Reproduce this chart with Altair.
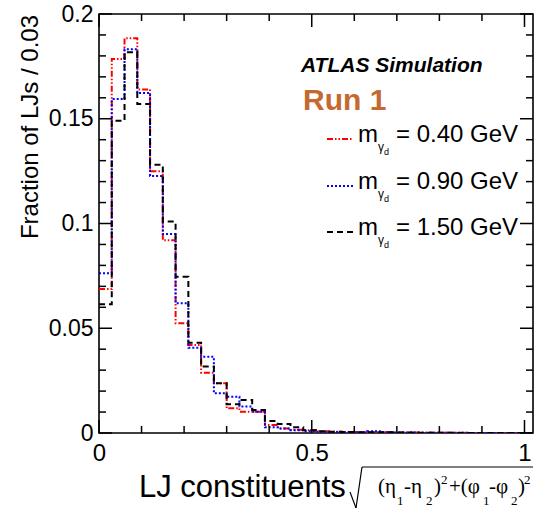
import altair as alt
import pandas as pd

# Histogram binning: 0.03-wide bins from 0 to 1.02
bin_width = 0.03
n_bins = 34
edges = [round(i * bin_width, 2) for i in range(n_bins + 1)]

masses = ["0.40", "0.90", "1.50"]
colors = ["#ff0000", "#0000ff", "#000000"]
dashes = [[6, 2, 1.5, 2, 1.5, 2], [2, 2], [6, 4]]

# Fraction of lepton-jets per bin for each dark-photon mass
frac_040 = [0.0687, 0.1785, 0.1884, 0.1640, 0.1250, 0.0920, 0.0524, 0.0420,
            0.0288, 0.0237, 0.0118, 0.0102, 0.0102, 0.0038, 0.0022, 0.0016,
            0.0013, 0.0008, 0.0006, 0.0005, 0.0004, 0.0003, 0.0003, 0.0002,
            0.0002, 0.0001, 0.0001, 0.0001, 0.0001, 0.0, 0.0, 0.0, 0.0, 0.0]
frac_090 = [0.0762, 0.1594, 0.1832, 0.1623, 0.1227, 0.0950, 0.0619, 0.0407,
            0.0364, 0.0190, 0.0173, 0.0126, 0.0102, 0.0027, 0.0022, 0.0013,
            0.0008, 0.0006, 0.0005, 0.0004, 0.0004, 0.0008, 0.0003, 0.0002,
            0.0002, 0.0001, 0.0001, 0.0001, 0.0001, 0.0, 0.0, 0.0, 0.0, 0.0]
frac_150 = [0.0614, 0.1490, 0.1817, 0.1570, 0.1280, 0.1009, 0.0746, 0.0431,
            0.0317, 0.0237, 0.0137, 0.0158, 0.0110, 0.0057, 0.0043, 0.0027,
            0.0013, 0.0008, 0.0006, 0.0005, 0.0004, 0.0003, 0.0003, 0.0002,
            0.0002, 0.0001, 0.0001, 0.0001, 0.0, 0.0, 0.0, 0.0, 0.0, 0.0]

x_major = [0.0, 0.5, 1.0]
x_minor = [0.1, 0.2, 0.3, 0.4, 0.6, 0.7, 0.8, 0.9]
y_major = [0.0, 0.05, 0.1, 0.15, 0.2]
y_minor = [v / 100 for v in range(1, 20) if v % 5 != 0]

W, H = 434, 419
FONT = "Liberation Sans"

rows = []
for mass, fr in zip(masses, [frac_040, frac_090, frac_150]):
    vals = fr + [fr[-1]]
    for e, v in zip(edges, vals):
        rows.append({"mass": mass, "edge": e, "frac": v})
hist_df = pd.DataFrame(rows)

xs = alt.Scale(domain=[0, 1.02], nice=False, zero=False)
ys = alt.Scale(domain=[0, 0.2], nice=False)
x_axis = alt.Axis(values=x_major, format="~g", title=None, labelPadding=8,
                  labelFontSize=24, labelFlush=False)
y_axis = alt.Axis(values=y_major, format="~g", title=None, labelPadding=6,
                  labelFontSize=23, labelFlush=False)

hist = alt.Chart(hist_df).mark_line(
    interpolate="step-after", strokeWidth=2, clip=True
).encode(
    x=alt.X("edge:Q", scale=xs, axis=x_axis),
    y=alt.Y("frac:Q", scale=ys, axis=y_axis),
    color=alt.Color("mass:N", scale=alt.Scale(domain=masses, range=colors), legend=None),
    strokeDash=alt.StrokeDash("mass:N", scale=alt.Scale(domain=masses, range=dashes), legend=None),
    detail="mass:N",
)


def x_ticks(vals, length):
    d = pd.DataFrame({"v": vals})
    base = alt.Chart(d).mark_rule(color="black", strokeWidth=1.5)
    enc_x = alt.X("v:Q", scale=xs, axis=x_axis)
    bottom = base.encode(x=enc_x, y=alt.value(H), y2=alt.value(H - length))
    top = base.encode(x=enc_x, y=alt.value(0), y2=alt.value(length))
    return [bottom, top]


def y_ticks(vals, length):
    d = pd.DataFrame({"v": vals})
    base = alt.Chart(d).mark_rule(color="black", strokeWidth=1.5)
    enc_y = alt.Y("v:Q", scale=ys, axis=y_axis)
    left = base.encode(y=enc_y, x=alt.value(0), x2=alt.value(length))
    right = base.encode(y=enc_y, x=alt.value(W), x2=alt.value(W - length))
    return [left, right]


def label(text, x, y, size, color="black", weight="normal", style="normal",
          align="left", baseline="alphabetic", angle=0, font=FONT):
    return alt.Chart(pd.DataFrame({"t": [text]})).mark_text(
        align=align, baseline=baseline, font=font, fontSize=size, color=color,
        fontWeight=weight, fontStyle=style, angle=angle,
    ).encode(x=alt.value(x), y=alt.value(y), text="t:N")


def seg(x1, y1, x2, y2, color="black", width=1.2, dash=None):
    kw = {"color": color, "strokeWidth": width}
    if dash is not None:
        kw["strokeDash"] = dash
    return alt.Chart(pd.DataFrame({"a": [0]})).mark_rule(**kw).encode(
        x=alt.value(x1), y=alt.value(y1), x2=alt.value(x2), y2=alt.value(y2))


layers = [hist]
layers += x_ticks(x_major, 13) + x_ticks(x_minor, 7)
layers += y_ticks(y_major, 13) + y_ticks(y_minor, 7)

# Titles and annotations
layers.append(label("ATLAS Simulation", 202, 58, 21, weight="bold", style="italic"))
layers.append(label("Run 1", 204, 96, 30, color="#c4692f", weight="bold"))

legend_y = [125, 172, 218]
for ly, mass, col, dsh in zip(legend_y, masses, colors, dashes):
    layers.append(seg(228, ly, 254, ly, color=col, width=2, dash=dsh))
    layers.append(label("m", 259, ly + 3, 24))
    layers.append(label("γ", 279, ly + 8, 12, baseline="middle"))
    layers.append(label("d", 285, ly + 16, 9))
    layers.append(label(f"= {mass} GeV", 297, ly + 3, 24))

layers.append(label("Fraction of LJs / 0.03", -68, 1, 24, align="right",
                    baseline="middle", angle=270))

# x-axis title with the angular-distance formula
layers.append(label("LJ constituents", 40, 483, 31))
layers.append(seg(251, 478, 257, 494))
layers.append(seg(257, 494, 263, 453))
layers.append(seg(263, 453, 434, 453))

# (text, x, role) pieces of (eta1-eta2)^2+(phi1-phi2)^2
formula = [
    ("(η", 279, "main"), ("1", 298, "sub"), ("-η", 305, "main"), ("2", 327, "sub"),
    (")", 335, "main"), ("2", 342, "sup"), ("+(φ", 350, "main"), ("1", 384, "sub"),
    ("-φ", 390, "main"), ("2", 412, "sub"), (")", 419, "main"), ("2", 425, "sup"),
]
base_y = {"main": 479, "sub": 491, "sup": 470}
size = {"main": 21, "sub": 13, "sup": 13}
for txt, fx, role in formula:
    layers.append(label(txt, fx, base_y[role], size[role], font="Liberation Serif"))

chart = alt.layer(*layers).properties(
    width=W, height=H, autosize="none",
    padding={"left": 99, "top": 14, "right": 14, "bottom": 76},
).configure_view(
    stroke="black", strokeWidth=1.6
).configure_axis(
    ticks=False, domain=False, grid=False, labelFont=FONT, labelColor="black",
)

chart.save("out.html", embed_options={"renderer": "svg", "actions": False})
